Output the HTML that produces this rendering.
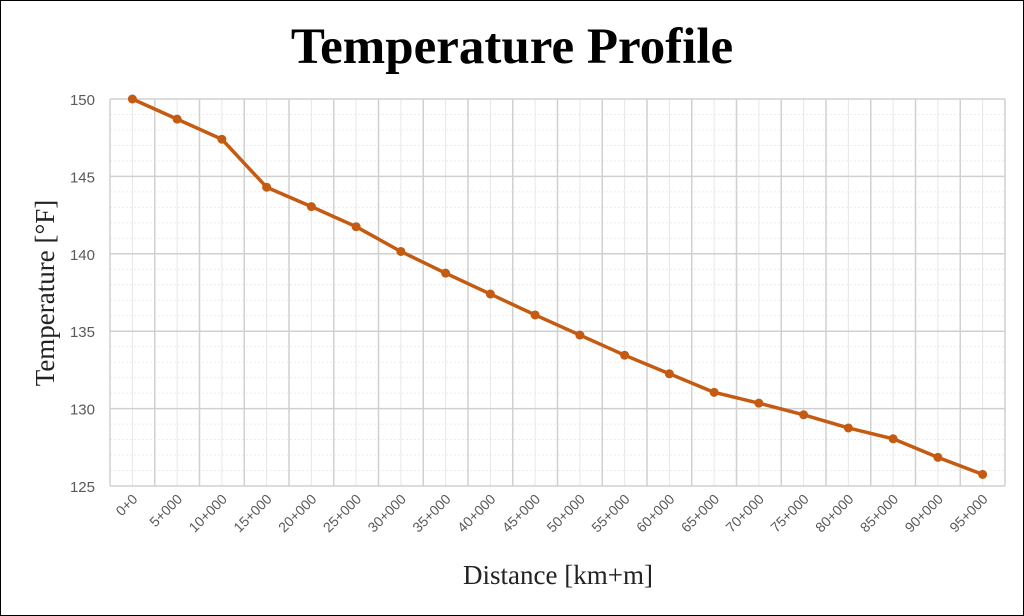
<!DOCTYPE html><html><head><style>body{margin:0;background:#fff}svg{display:block}</style></head><body>
<svg width="1024" height="616" xmlns="http://www.w3.org/2000/svg" font-family="Liberation Sans, sans-serif">
<rect x="0.5" y="0.5" width="1023" height="615" fill="#fff" stroke="#000"/>
<text x="512" y="63" text-anchor="middle" font-family="Liberation Serif, serif" font-weight="bold" font-size="51">Temperature Profile</text>
<g id="g"></g>
<text x="558" y="584" text-anchor="middle" font-family="Liberation Serif, serif" font-size="27" fill="#222">Distance [km+m]</text>
<text transform="translate(54,293) rotate(-90)" text-anchor="middle" font-family="Liberation Serif, serif" font-size="27" fill="#222">Temperature [°F]</text>
</svg>
<script>
var g=document.getElementById('g'),s='';
var L=110,R=1005,T=99,B=486,w=(R-L)/20,k=(B-T)/25;
for(var v=125;v<=150;v++){var y=T+(150-v)*k;if(v%5)s+='<line x1="'+L+'" x2="'+R+'" y1="'+y+'" y2="'+y+'" stroke="#ececec" stroke-dasharray="2,2"/>';}
for(var i=0;i<20;i++){var x=L+w*(i+.5);s+='<line x1="'+x+'" x2="'+x+'" y1="'+T+'" y2="'+B+'" stroke="#e6e6e6"/>';}
for(var v=125;v<=150;v+=5){var y=T+(150-v)*k;s+='<line x1="'+L+'" x2="'+R+'" y1="'+y+'" y2="'+y+'" stroke="#d0d0d0" stroke-width="1.5"/><text x="95" y="'+(y+6)+'" text-anchor="end" font-size="15" fill="#595959">'+v+'</text>';}
for(var i=0;i<=20;i++){var x=L+w*i;s+='<line x1="'+x+'" x2="'+x+'" y1="'+T+'" y2="'+B+'" stroke="#d0d0d0" stroke-width="1.5"/>';}
var d=[150,148.7,147.4,144.3,143.05,141.75,140.15,138.75,137.4,136.05,134.75,133.45,132.25,131.05,130.35,129.6,128.75,128.05,126.85,125.75],p='';
for(var i=0;i<20;i++){var x=L+w*(i+.5),y=T+(150-d[i])*k;p+=x+','+y+' ';var lb=i?(i*5)+'+000':'0+0';s+='<text transform="translate('+(x+6)+',500) rotate(-45)" text-anchor="end" font-size="14" fill="#595959">'+lb+'</text>';}
s+='<polyline points="'+p+'" fill="none" stroke="#c55a11" stroke-width="3.5" stroke-linejoin="round"/>';
p.trim().split(' ').forEach(function(q){var a=q.split(',');s+='<circle cx="'+a[0]+'" cy="'+a[1]+'" r="4.5" fill="#c55a11"/>';});
g.innerHTML=s;
</script></body></html>
